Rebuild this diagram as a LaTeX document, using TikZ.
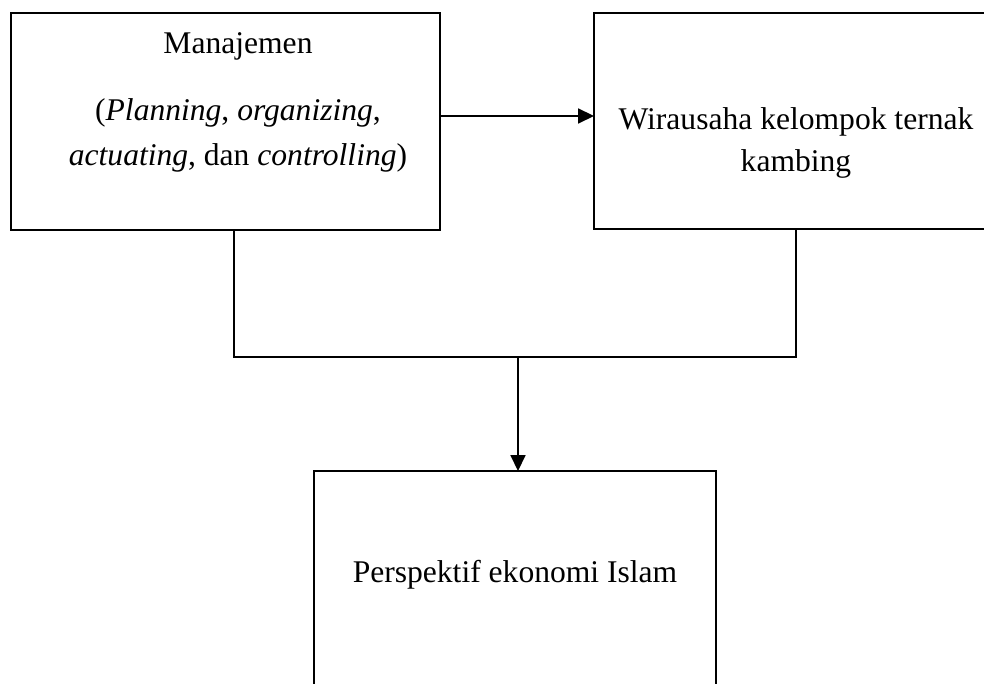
\documentclass[tikz,border=0pt]{standalone}
\usepackage{fontspec}
\setmainfont{Liberation Serif}
\usetikzlibrary{arrows.meta}

\begin{document}
\begin{tikzpicture} [x=0.38pt, y=-0.38pt, box/.style = {draw, line width=0.8pt, inner sep=0pt, outer sep=0pt}, txt/.style = {inner sep=0pt, align=center}]

\useasboundingbox (0,0) rectangle (984,684);
\clip (0,0) rectangle (984,684);

\node (mgmt) [box, minimum width=163pt, minimum height=82.5pt] at (225.5,121.5) {};
\node (wira) [box, minimum width=153.5pt, minimum height=82.1pt] at (796,121) {};
\node (persp) [box, minimum width=152.8pt, minimum height=87pt] at (515,585.5) {};

\node (mgmt text) [txt, anchor=north, font=\fontsize{12}{17.1}\selectfont] at (238,32)
	{Manajemen\\[8.4pt] (\textit{Planning}, \textit{organizing},\\ \textit{actuating}, dan \textit{controlling})};
\node (wira text) [txt, anchor=north, font=\fontsize{12}{16}\selectfont] at (796,107)
	{Wirausaha kelompok ternak\\ kambing};
\node (persp text) [txt, anchor=base, font=\fontsize{12}{16}\selectfont] at (515,583)
	{Perspektif ekonomi Islam};

\coordinate (join) at (518,357);

\draw [-{Triangle[length=6pt, width=5.6pt]}, line width=0.8pt] (mgmt.east |- 0,116) -- (wira.west |- 0,116);
\draw [line width=0.8pt] (mgmt.south -| 234,0) |- (join) -| (wira.south);
\draw [-{Triangle[length=6pt, width=5.6pt]}, line width=0.8pt] (join) -- (join |- persp.north);
\end{tikzpicture}
\end{document}
